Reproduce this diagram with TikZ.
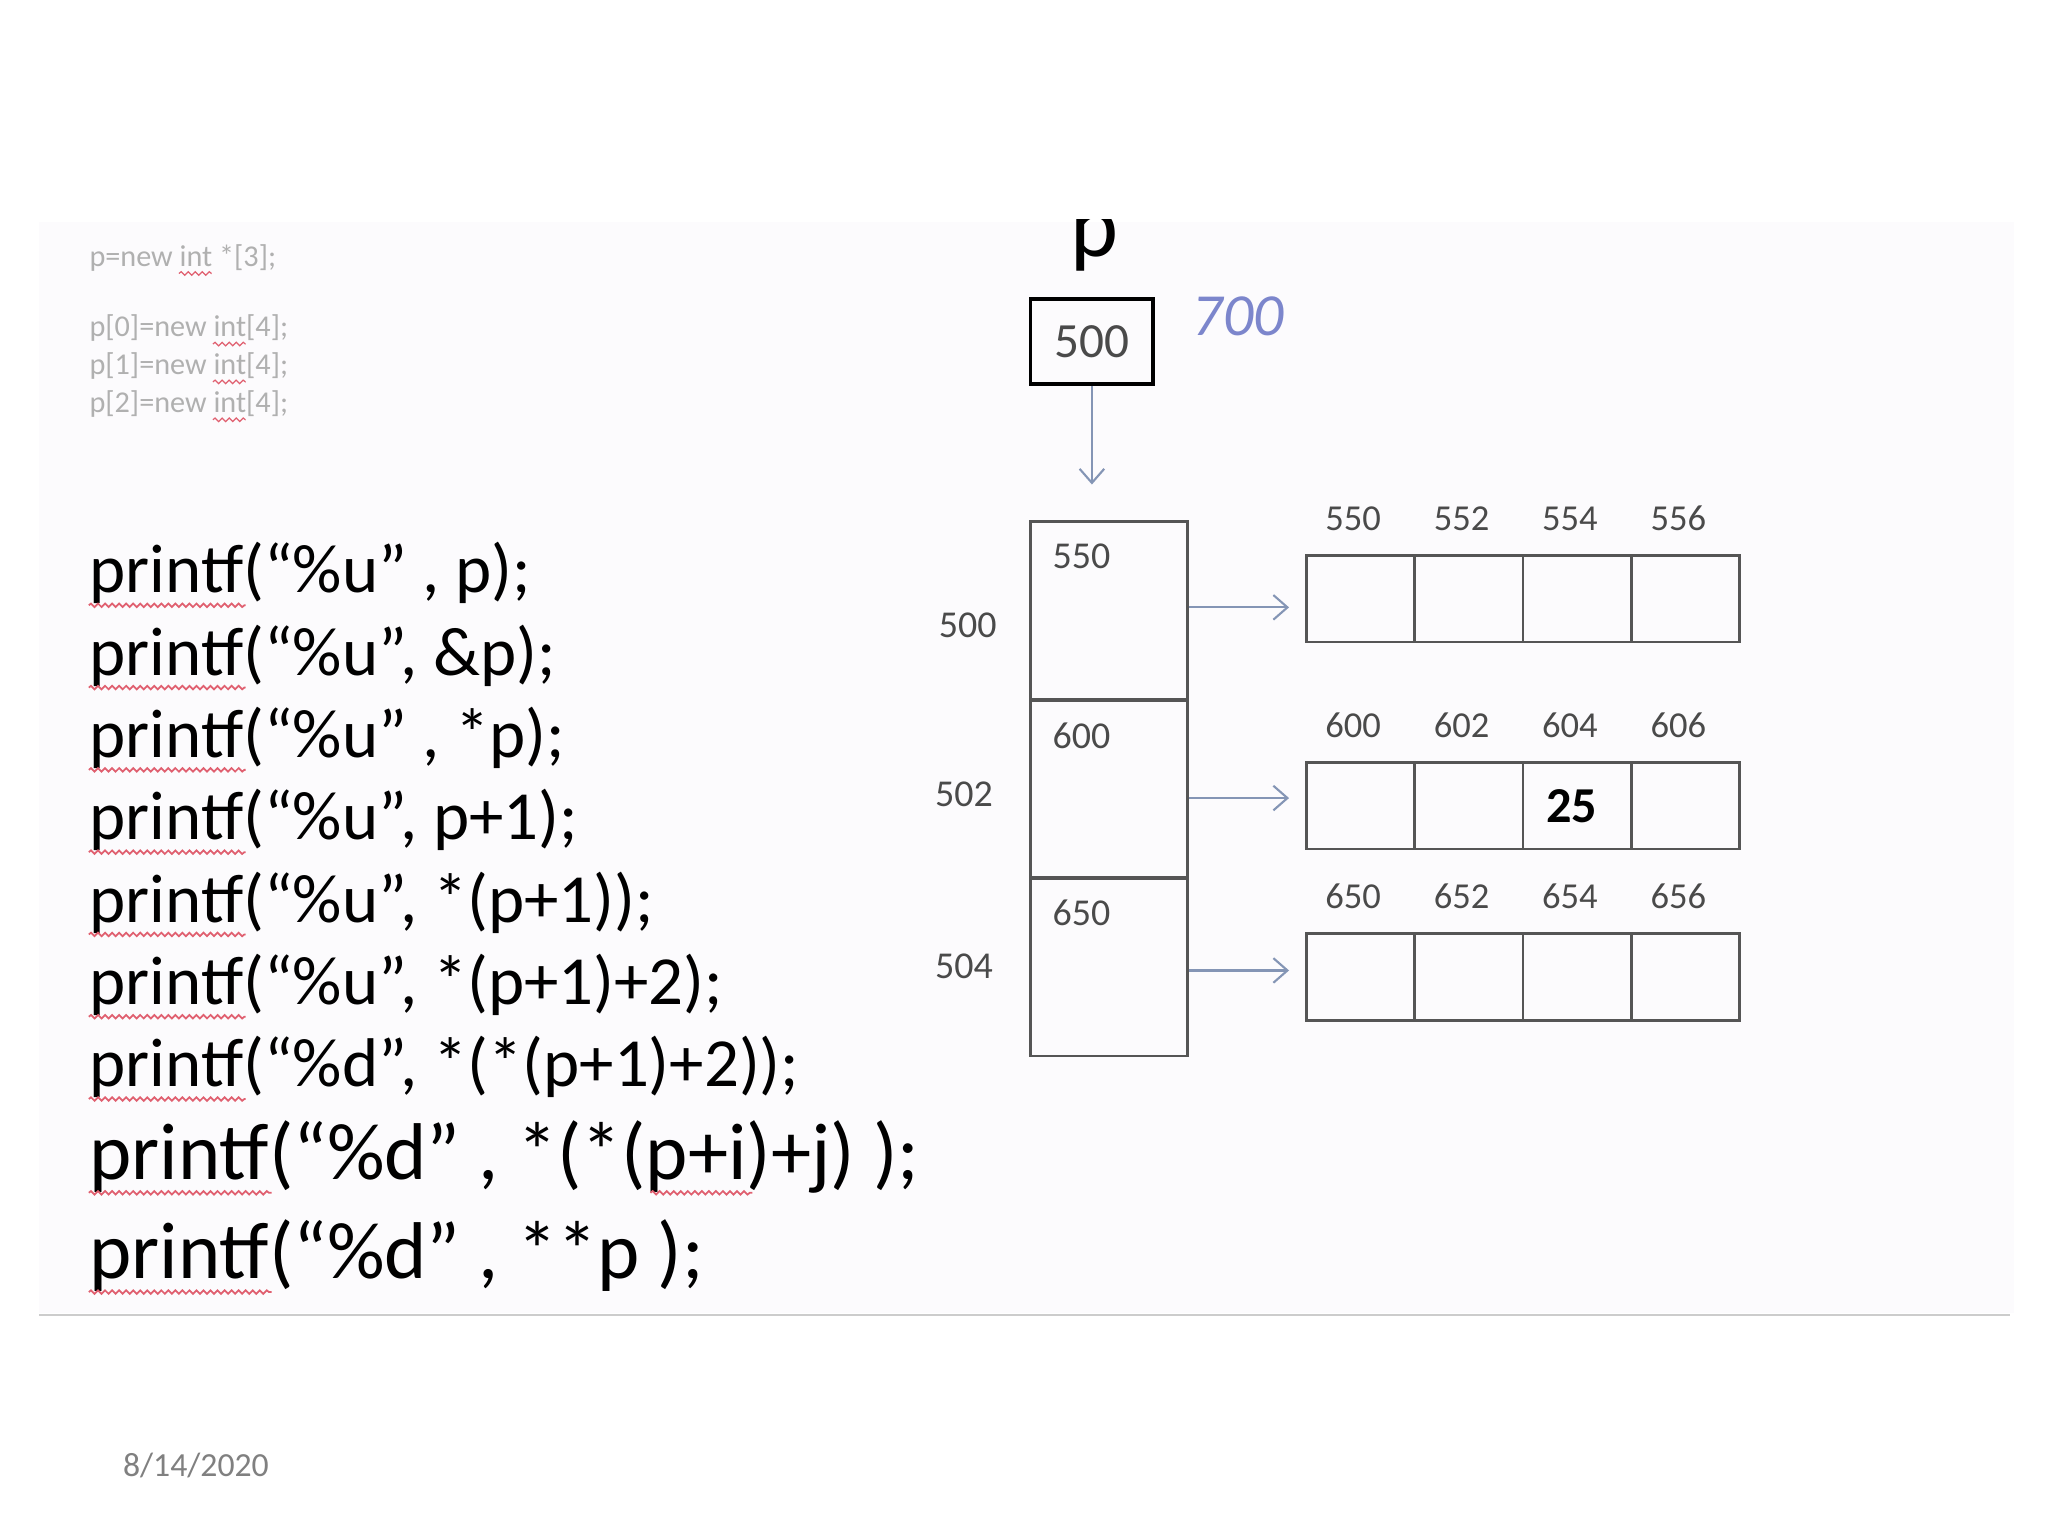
\documentclass[tikz,border=0pt]{standalone}
\usepackage{fontspec}
\setmainfont{Carlito}
\usepackage{tikz}
\usepackage{xcolor}
\usetikzlibrary{arrows.meta,decorations.pathmorphing}

\newcommand{\px}{0.3716pt}

\definecolor{slidebg}{HTML}{FCFBFD}
\definecolor{boxgray}{HTML}{555555}
\definecolor{numgray}{HTML}{4A4A4A}
\definecolor{ptrblue}{HTML}{8495B5}
\definecolor{penblue}{HTML}{7C86CC}
\definecolor{spellred}{HTML}{E06070}
\definecolor{faint}{HTML}{B0B0B0}

\tikzset{
    code/.style={anchor=base west, inner sep=0pt, font=\fontsize{19.6pt}{23pt}\selectfont},
    bigcode/.style={code, font=\fontsize{22.9pt}{27pt}\selectfont},
    smallcode/.style={anchor=base west, inner sep=0pt, text=faint, font=\fontsize{8.6pt}{10pt}\selectfont},
    spell/.style={draw=spellred, line width=0.5pt, decorate, decoration={snake, amplitude=0.5pt, segment length=2pt}},
    slot/.style={draw=boxgray, line width=0.8pt, minimum width=120*\px, minimum height=137*\px, inner sep=0pt},
    cell/.style={draw=boxgray, line width=0.8pt, minimum width=83*\px, minimum height=66*\px, inner sep=0pt},
    addr/.style={text=numgray, inner sep=0pt, font=\fontsize{10.4pt}{12pt}\selectfont},
    ptr/.style={draw=ptrblue, line width=0.6pt, -{Straight Barb[length=4pt,width=7pt]}}
}

\begin{document}
\begin{tikzpicture}[x=\px, y=-\px]
    \useasboundingbox (0,0) rectangle (1568,1176);
    \fill[slidebg] (30,170) rectangle (1542,1005);

    % Declarations
    \node[smallcode] (decl) at (68,204) {p=new int *[3];};
    \node[smallcode] (alloc0) at (68,258) {p[0]=new int[4];};
    \node[smallcode] (alloc1) at (68,287) {p[1]=new int[4];};
    \node[smallcode] (alloc2) at (68,316) {p[2]=new int[4];};
    \draw[spell, line width=0.35pt] ([xshift=69*\px, yshift=-2pt]decl.base west) -- ++(25,0);
    \foreach \n in {alloc0,alloc1,alloc2}
        \draw[spell, line width=0.35pt] ([xshift=95*\px, yshift=-2pt]\n.base west) -- ++(25,0);

    % printf lines
    \node[code] (c1) at (68,454) {printf(“\%u” , p);};
    \node[code] (c2) at (68,517) {printf(“\%u”, \&p);};
    \node[code] (c3) at (68,580) {printf(“\%u” , *p);};
    \node[code] (c4) at (68,643) {printf(“\%u”, p+1);};
    \node[code] (c5) at (68,706) {printf(“\%u”, *(p+1));};
    \node[code] (c6) at (68,769) {printf(“\%u”, *(p+1)+2);};
    \node[code] (c7) at (68,832) {printf(“\%d”, *(*(p+1)+2));};
    \node[bigcode] (c8) at (68,903) {printf(“\%d” , *(*(p+i)+j) );};
    \node[bigcode] (c9) at (68,979) {printf(“\%d” , **p );};
    \foreach \n in {c1,c2,c3,c4,c5,c6,c7}
        \draw[spell] ([yshift=-3.5pt]\n.base west) -- ++(120,0);
    \foreach \n in {c8,c9}
        \draw[spell] ([yshift=-3.8pt]\n.base west) -- ++(140,0);
    \draw[spell] ([xshift=430*\px, yshift=-3.8pt]c8.base west) -- ++(78,0);

    % Pointer p
    \begin{scope}
        \clip (700,168) rectangle (1000,300);
        \node[anchor=base, inner sep=0pt, font=\fontsize{26pt}{30pt}\selectfont] (plabel) at (838,196) {p};
    \end{scope}
    \node[draw, line width=1.1pt, minimum width=94*\px, minimum height=65*\px, inner sep=0pt,
        font=\fontsize{14pt}{16pt}\selectfont, text=numgray] (pbox) at (836,261.5) {500};
    \node[text=penblue, font=\itshape\fontsize{17pt}{20pt}\selectfont] (paddr) at (948,242) {700};

    % Array of row pointers
    \node[slot] (cell0) at (849,467.5) {};
    \node[slot] (cell1) at (849,604) {};
    \node[slot] (cell2) at (849,740) {};
    \node[addr, font=\fontsize{10.8pt}{12pt}\selectfont] at (828,426) {550};
    \node[addr, font=\fontsize{10.8pt}{12pt}\selectfont] at (828,563) {600};
    \node[addr, font=\fontsize{10.8pt}{12pt}\selectfont] at (828,699) {650};
    \node[addr, font=\fontsize{10.8pt}{12pt}\selectfont] at (741,479) {500};
    \node[addr, font=\fontsize{10.8pt}{12pt}\selectfont] at (738,608) {502};
    \node[addr, font=\fontsize{10.8pt}{12pt}\selectfont] at (738,740) {504};

    % Rows of four ints
    \foreach \r/\y/\base in {0/458.5/550, 1/617/600, 2/748/650}{
        \foreach \c in {0,...,3}{
            \pgfmathtruncatemacro{\cellno}{\base+2*\c}
            \node[cell] (r\r\c) at (1041.5+83*\c,\y) {};
            \node[addr] at (1036+83*\c,\y-61.5) {\cellno};
        }
    }
    \node[font=\bfseries\fontsize{14.3pt}{16pt}\selectfont, xshift=-4*\px] at (r12) {25};

    % Arrows
    \draw[ptr, shorten >=27*\px] (pbox.south) -- (pbox.south |- cell0.north);
    \foreach \r/\dy in {0/2.5, 1/-7, 2/-3}{
        \coordinate (tail\r) at ([yshift=\dy*\px]cell\r.east);
        \draw[ptr, shorten >=12*\px] (tail\r) -- (tail\r -| r\r0.west);
    }

    % Footer
    \draw[gray!40, line width=0.6pt] (30,1007) -- (1539,1007);
    \node[text=gray, font=\fontsize{9.6pt}{11pt}\selectfont] (date) at (150,1122) {8/14/2020};
\end{tikzpicture}
\end{document}
